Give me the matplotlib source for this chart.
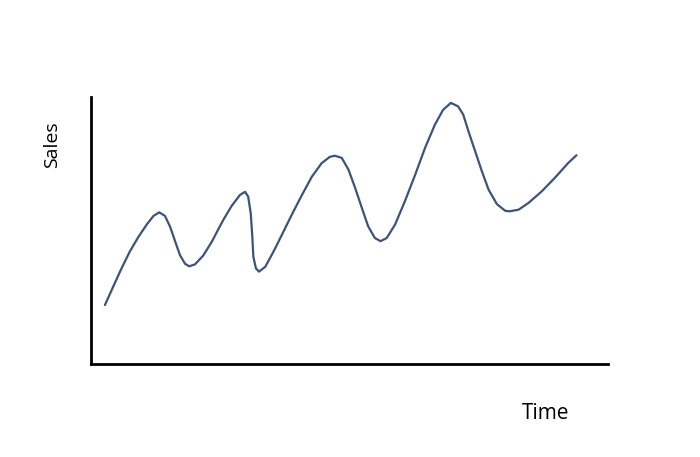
import matplotlib
matplotlib.use("Agg")
import matplotlib.pyplot as plt

# values (time and sales on a 0-100 scale)
time = [2.7, 4.3, 5.9, 7.5, 9.2, 10.8, 12.1, 13.2, 14.3, 15.3, 16.3, 17.2,
        18.2, 19.0, 20.1, 21.7, 23.4, 24.6, 25.6, 27.2, 28.8, 29.8, 30.4, 30.9,
        31.2, 31.4, 31.9, 32.5, 33.7, 35.3, 36.9, 38.8, 40.8, 42.7, 44.6, 46.2,
        47.2, 48.5, 49.8, 51.1, 52.4, 53.6, 54.9, 56.0, 57.2, 58.8, 60.7, 62.7,
        64.6, 66.5, 68.1, 69.6, 71.0, 72.0, 73.0, 74.3, 75.6, 76.9, 78.5, 80.1,
        81.0, 82.7, 84.6, 87.2, 89.8, 92.3, 93.9]
sales = [22.1, 29.0, 35.8, 42.1, 47.7, 52.3, 55.5, 56.8, 55.5, 51.4, 45.8, 40.8,
         37.5, 36.6, 37.3, 40.6, 45.9, 50.4, 54.0, 59.2, 63.3, 64.5, 62.7, 56.4,
         47.7, 40.2, 35.8, 34.6, 36.4, 42.1, 48.3, 55.8, 63.3, 70.1, 75.2, 77.6,
         78.0, 77.2, 72.8, 65.9, 58.4, 51.6, 47.2, 46.0, 47.2, 52.2, 60.9, 70.9,
         80.9, 89.6, 95.2, 97.8, 96.5, 93.4, 87.2, 79.7, 72.2, 65.3, 59.9, 57.4,
         57.2, 57.8, 60.3, 64.7, 69.9, 75.3, 78.2]

x_label = "Time"
y_label = "Sales"

plt.rcParams["font.family"] = ["Open Sans", "DejaVu Sans"]

fig = plt.figure(figsize=(7, 4.57), dpi=100)
ax = fig.add_axes([0.13, 0.2035, 0.7386, 0.5842])

ax.plot(time, sales, color="#3d5478", linewidth=1.6,
        solid_joinstyle="round", solid_capstyle="round")

ax.set_xlim(0, 100)
ax.set_ylim(0, 100)
for side in ("top", "right"):
    ax.spines[side].set_visible(False)
for side in ("left", "bottom"):
    ax.spines[side].set_linewidth(2.0)
    ax.spines[side].set_color("black")
ax.set_xticks([])
ax.set_yticks([])

ax.text(-0.075, 0.82, y_label, transform=ax.transAxes, rotation=90,
        ha="center", va="center", fontsize=14)
ax.text(0.88, -0.184, x_label, transform=ax.transAxes,
        ha="center", va="center", fontsize=15)

fig.savefig("out.png", dpi=100)
